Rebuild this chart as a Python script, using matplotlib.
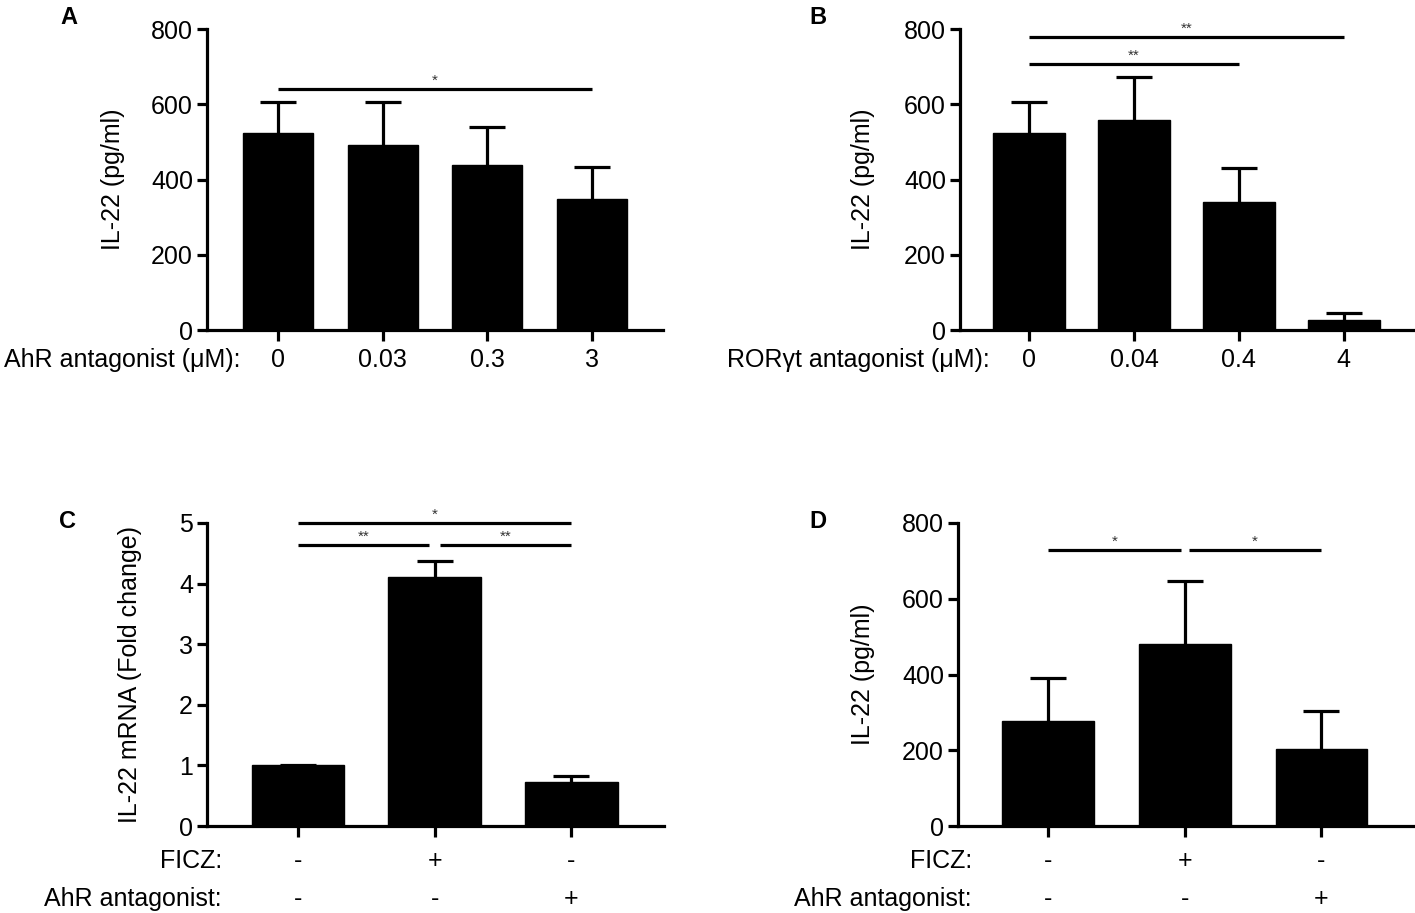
import matplotlib
matplotlib.use("Agg")
import matplotlib.pyplot as plt
import numpy as np

plt.rcParams['font.family'] = ['Liberation Sans', 'DejaVu Sans']

# ---------------- data ----------------
a_labels = ["0", "0.03", "0.3", "3"]
a_means = [523, 492, 439, 349]
a_err = [83, 114, 101, 85]

b_labels = ["0", "0.04", "0.4", "4"]
b_means = [523, 558, 341, 27]
b_err = [83, 114, 89, 18]

c_ficz = ["-", "+", "-"]
c_ahr = ["-", "-", "+"]
c_means = [1.0, 4.11, 0.73]
c_err = [0.0, 0.26, 0.09]

d_ficz = ["-", "+", "-"]
d_ahr = ["-", "-", "+"]
d_means = [277, 481, 204]
d_err = [113, 167, 100]

# significance annotations: (x_start, x_end, y, text)
a_sig = [(0, 3, 641, "*")]
b_sig = [(0, 3, 779, "**"), (0, 2, 708, "**")]
c_sig = [(0, 2, 5.0, "*"), (0, 0.96, 4.64, "**"), (1.04, 2, 4.64, "**")]
d_sig = [(0, 0.97, 730, "*"), (1.03, 2, 730, "*")]

W, H = 1415, 913
fig = plt.figure(figsize=(W / 100, H / 100), dpi=100)


def make_ax(left, right, top, bottom):
    return fig.add_axes([left / W, 1 - bottom / H, (right - left) / W, (bottom - top) / H])


LW = 2.3
FS = 18


def style(ax, ymax, yticks, xlim):
    ax.set_ylim(0, ymax)
    ax.set_xlim(*xlim)
    for s in ["top", "right"]:
        ax.spines[s].set_visible(False)
    for s in ["left", "bottom"]:
        ax.spines[s].set_linewidth(LW)
    ax.set_yticks(yticks)
    ax.tick_params(axis="y", direction="out", length=7, width=LW, labelsize=FS, pad=3)
    ax.tick_params(axis="x", direction="out", length=8, width=LW, labelbottom=False)


def bars(ax, means, err, width=0.67):
    x = np.arange(len(means))
    ax.bar(x, means, width=width, color="black", edgecolor="black", zorder=2)
    _, caps, _ = ax.errorbar(x, means, yerr=[np.zeros(len(err)), err], fmt="none", ecolor="black",
                             elinewidth=LW, capsize=13, capthick=LW, zorder=3)
    for cl in caps:
        if np.allclose(cl.get_ydata(), means):
            cl.set_visible(False)
    ax.set_xticks(x)
    return x


def sig(ax, items, ymax):
    for x0, x1, y, t in items:
        ax.plot([x0, x1], [y, y], color="black", lw=LW, clip_on=False, solid_capstyle="butt")
        ax.text((x0 + x1) / 2, y + ymax * 0.004, t, ha="center", va="bottom",
                fontsize=11, color="#333333", clip_on=False)


# Panel A
axA = make_ax(207, 663, 29, 330)
style(axA, 800, [0, 200, 400, 600, 800], (-0.68, 3.68))
xA = bars(axA, a_means, a_err)
sig(axA, a_sig, 800)
for xi, lab in zip(xA, a_labels):
    axA.text(xi, -0.1, lab, transform=axA.get_xaxis_transform(), ha="center", va="center", fontsize=FS)
fig.text(240 / W, 1 - 360 / H, "AhR antagonist (\u03bcM):", ha="right", va="center", fontsize=FS)
axA.set_ylabel("IL-22 (pg/ml)", fontsize=FS)
axA.yaxis.set_label_coords(-0.18, 0.5)

# Panel B
axB = make_ax(960, 1413, 29, 330)
style(axB, 800, [0, 200, 400, 600, 800], (-0.66, 3.66))
xB = bars(axB, b_means, b_err, width=0.69)
sig(axB, b_sig, 800)
for xi, lab in zip(xB, b_labels):
    axB.text(xi, -0.1, lab, transform=axB.get_xaxis_transform(), ha="center", va="center", fontsize=FS)
fig.text(990 / W, 1 - 360 / H, "ROR\u03b3t antagonist (\u03bcM):", ha="right", va="center", fontsize=FS)
axB.set_ylabel("IL-22 (pg/ml)", fontsize=FS)
axB.yaxis.set_label_coords(-0.188, 0.5)

# Panel C
axC = make_ax(207, 664, 523, 826)
style(axC, 5, [0, 1, 2, 3, 4, 5], (-0.667, 2.68))
xC = bars(axC, c_means, c_err, width=0.68)
sig(axC, c_sig, 5)
for xi, l1, l2 in zip(xC, c_ficz, c_ahr):
    axC.text(xi, -(861 - 826) / 303, l1, transform=axC.get_xaxis_transform(), ha="center", va="center", fontsize=FS)
    axC.text(xi, -(899 - 826) / 303, l2, transform=axC.get_xaxis_transform(), ha="center", va="center", fontsize=FS)
fig.text(222 / W, 1 - 861 / H, "FICZ:", ha="right", va="center", fontsize=FS)
fig.text(222 / W, 1 - 899 / H, "AhR antagonist:", ha="right", va="center", fontsize=FS)
axC.set_ylabel("IL-22 mRNA (Fold change)", fontsize=FS)
axC.yaxis.set_label_coords(-0.142, 0.5)

# Panel D
axD = make_ax(958, 1413, 523, 826)
style(axD, 800, [0, 200, 400, 600, 800], (-0.66, 2.67))
xD = bars(axD, d_means, d_err, width=0.67)
sig(axD, d_sig, 800)
for xi, l1, l2 in zip(xD, d_ficz, d_ahr):
    axD.text(xi, -(861 - 826) / 303, l1, transform=axD.get_xaxis_transform(), ha="center", va="center", fontsize=FS)
    axD.text(xi, -(899 - 826) / 303, l2, transform=axD.get_xaxis_transform(), ha="center", va="center", fontsize=FS)
fig.text(972 / W, 1 - 861 / H, "FICZ:", ha="right", va="center", fontsize=FS)
fig.text(972 / W, 1 - 899 / H, "AhR antagonist:", ha="right", va="center", fontsize=FS)
axD.set_ylabel("IL-22 (pg/ml)", fontsize=FS)
axD.yaxis.set_label_coords(-0.182, 0.5)

# Panel letters
for lab, x, y in [("A", 69, 18), ("B", 818, 18), ("C", 68, 522), ("D", 818, 522)]:
    fig.text(x / W, 1 - y / H, lab, ha="center", va="center", fontsize=17, fontweight="bold")

fig.savefig("out.png", dpi=100, facecolor="white")
